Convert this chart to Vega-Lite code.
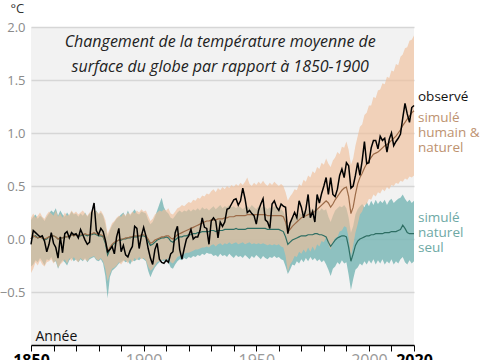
{
"$schema": "https://vega.github.io/schema/vega-lite/v6.json",
"width": 383, "height": 318,
"autosize": {"type": "none"},
"padding": {"left": 31, "top": 27, "right": 71, "bottom": 15},
"background": "white",
"config": {"view": {"fill": "#f2f2f2", "stroke": null}, "font": "Open Sans"},
"data": {"name": "d"},
"datasets": {"d": [
{"year":1850,"o":-0.05,"hm":0.00,"hl":-0.32,"hh":0.20,"nm":0.00,"nl":-0.26,"nh":0.18},
{"year":1851,"o":0.08,"hm":0.03,"hl":-0.28,"hh":0.24,"nm":0.02,"nl":-0.24,"nh":0.21},
{"year":1852,"o":0.06,"hm":0.02,"hl":-0.22,"hh":0.20,"nm":0.03,"nl":-0.20,"nh":0.23},
{"year":1853,"o":0.04,"hm":0.01,"hl":-0.25,"hh":0.22,"nm":0.01,"nl":-0.22,"nh":0.19},
{"year":1854,"o":0.02,"hm":0.02,"hl":-0.20,"hh":0.25,"nm":0.02,"nl":-0.18,"nh":0.22},
{"year":1855,"o":0.03,"hm":0.01,"hl":-0.24,"hh":0.21,"nm":0.01,"nl":-0.21,"nh":0.20},
{"year":1856,"o":-0.02,"hm":0.00,"hl":-0.26,"hh":0.19,"nm":-0.01,"nl":-0.25,"nh":0.17},
{"year":1857,"o":-0.12,"hm":0.01,"hl":-0.22,"hh":0.23,"nm":0.00,"nl":-0.19,"nh":0.21},
{"year":1858,"o":-0.05,"hm":0.02,"hl":-0.21,"hh":0.26,"nm":0.02,"nl":-0.20,"nh":0.24},
{"year":1859,"o":0.06,"hm":0.03,"hl":-0.19,"hh":0.24,"nm":0.03,"nl":-0.17,"nh":0.27},
{"year":1860,"o":-0.04,"hm":0.03,"hl":-0.23,"hh":0.22,"nm":0.03,"nl":-0.22,"nh":0.25},
{"year":1861,"o":-0.08,"hm":0.02,"hl":-0.20,"hh":0.27,"nm":0.02,"nl":-0.21,"nh":0.29},
{"year":1862,"o":-0.18,"hm":0.00,"hl":-0.27,"hh":0.21,"nm":0.00,"nl":-0.28,"nh":0.22},
{"year":1863,"o":0.02,"hm":0.01,"hl":-0.24,"hh":0.24,"nm":0.01,"nl":-0.23,"nh":0.27},
{"year":1864,"o":-0.13,"hm":0.01,"hl":-0.22,"hh":0.20,"nm":0.01,"nl":-0.20,"nh":0.23},
{"year":1865,"o":0.05,"hm":0.02,"hl":-0.19,"hh":0.25,"nm":0.02,"nl":-0.22,"nh":0.21},
{"year":1866,"o":0.07,"hm":0.02,"hl":-0.23,"hh":0.22,"nm":0.02,"nl":-0.25,"nh":0.25},
{"year":1867,"o":0.01,"hm":0.03,"hl":-0.18,"hh":0.23,"nm":0.03,"nl":-0.20,"nh":0.22},
{"year":1868,"o":0.06,"hm":0.04,"hl":-0.21,"hh":0.27,"nm":0.04,"nl":-0.18,"nh":0.26},
{"year":1869,"o":0.04,"hm":0.03,"hl":-0.17,"hh":0.24,"nm":0.03,"nl":-0.21,"nh":0.23},
{"year":1870,"o":0.05,"hm":0.04,"hl":-0.20,"hh":0.26,"nm":0.04,"nl":-0.19,"nh":0.24},
{"year":1871,"o":0.01,"hm":0.03,"hl":-0.22,"hh":0.23,"nm":0.03,"nl":-0.22,"nh":0.21},
{"year":1872,"o":0.09,"hm":0.04,"hl":-0.18,"hh":0.25,"nm":0.03,"nl":-0.19,"nh":0.24},
{"year":1873,"o":0.04,"hm":0.04,"hl":-0.20,"hh":0.27,"nm":0.04,"nl":-0.21,"nh":0.22},
{"year":1874,"o":-0.01,"hm":0.05,"hl":-0.19,"hh":0.24,"nm":0.04,"nl":-0.18,"nh":0.25},
{"year":1875,"o":-0.05,"hm":0.04,"hl":-0.21,"hh":0.22,"nm":0.03,"nl":-0.22,"nh":0.21},
{"year":1876,"o":-0.03,"hm":0.04,"hl":-0.18,"hh":0.25,"nm":0.04,"nl":-0.19,"nh":0.24},
{"year":1877,"o":0.25,"hm":0.05,"hl":-0.17,"hh":0.27,"nm":0.04,"nl":-0.18,"nh":0.26},
{"year":1878,"o":0.34,"hm":0.06,"hl":-0.16,"hh":0.28,"nm":0.05,"nl":-0.17,"nh":0.25},
{"year":1879,"o":0.08,"hm":0.05,"hl":-0.19,"hh":0.26,"nm":0.04,"nl":-0.20,"nh":0.27},
{"year":1880,"o":0.04,"hm":0.04,"hl":-0.20,"hh":0.24,"nm":0.03,"nl":-0.21,"nh":0.23},
{"year":1881,"o":0.10,"hm":0.04,"hl":-0.18,"hh":0.27,"nm":0.03,"nl":-0.19,"nh":0.25},
{"year":1882,"o":0.07,"hm":0.03,"hl":-0.21,"hh":0.23,"nm":0.02,"nl":-0.23,"nh":0.22},
{"year":1883,"o":-0.01,"hm":-0.02,"hl":-0.28,"hh":0.18,"nm":-0.04,"nl":-0.35,"nh":0.14},
{"year":1884,"o":-0.12,"hm":-0.12,"hl":-0.40,"hh":0.05,"nm":-0.15,"nl":-0.56,"nh":0.02},
{"year":1885,"o":-0.10,"hm":-0.08,"hl":-0.33,"hh":0.10,"nm":-0.10,"nl":-0.36,"nh":0.08},
{"year":1886,"o":-0.07,"hm":-0.05,"hl":-0.28,"hh":0.15,"nm":-0.06,"nl":-0.30,"nh":0.13},
{"year":1887,"o":-0.14,"hm":-0.03,"hl":-0.27,"hh":0.17,"nm":-0.04,"nl":-0.28,"nh":0.16},
{"year":1888,"o":0.02,"hm":-0.02,"hl":-0.25,"hh":0.20,"nm":-0.02,"nl":-0.26,"nh":0.19},
{"year":1889,"o":0.10,"hm":-0.01,"hl":-0.22,"hh":0.22,"nm":-0.01,"nl":-0.23,"nh":0.21},
{"year":1890,"o":-0.12,"hm":0.00,"hl":-0.24,"hh":0.21,"nm":-0.01,"nl":-0.22,"nh":0.23},
{"year":1891,"o":-0.06,"hm":0.00,"hl":-0.21,"hh":0.24,"nm":0.00,"nl":-0.20,"nh":0.25},
{"year":1892,"o":-0.15,"hm":0.01,"hl":-0.20,"hh":0.22,"nm":0.00,"nl":-0.22,"nh":0.21},
{"year":1893,"o":-0.17,"hm":0.01,"hl":-0.23,"hh":0.25,"nm":0.01,"nl":-0.21,"nh":0.27},
{"year":1894,"o":-0.11,"hm":0.02,"hl":-0.19,"hh":0.23,"nm":0.01,"nl":-0.24,"nh":0.22},
{"year":1895,"o":-0.07,"hm":0.02,"hl":-0.22,"hh":0.26,"nm":0.02,"nl":-0.20,"nh":0.25},
{"year":1896,"o":0.12,"hm":0.03,"hl":-0.18,"hh":0.24,"nm":0.02,"nl":-0.21,"nh":0.28},
{"year":1897,"o":0.10,"hm":0.03,"hl":-0.20,"hh":0.27,"nm":0.02,"nl":-0.19,"nh":0.24},
{"year":1898,"o":-0.09,"hm":0.03,"hl":-0.17,"hh":0.25,"nm":0.03,"nl":-0.20,"nh":0.23},
{"year":1899,"o":0.03,"hm":0.04,"hl":-0.19,"hh":0.28,"nm":0.03,"nl":-0.18,"nh":0.26},
{"year":1900,"o":0.11,"hm":0.04,"hl":-0.18,"hh":0.26,"nm":0.03,"nl":-0.19,"nh":0.25},
{"year":1901,"o":0.03,"hm":0.03,"hl":-0.20,"hh":0.27,"nm":0.02,"nl":-0.21,"nh":0.24},
{"year":1902,"o":-0.09,"hm":0.00,"hl":-0.26,"hh":0.22,"nm":-0.02,"nl":-0.30,"nh":0.18},
{"year":1903,"o":-0.18,"hm":-0.04,"hl":-0.30,"hh":0.17,"nm":-0.06,"nl":-0.36,"nh":0.14},
{"year":1904,"o":-0.24,"hm":-0.03,"hl":-0.28,"hh":0.19,"nm":-0.05,"nl":-0.31,"nh":0.16},
{"year":1905,"o":-0.10,"hm":-0.01,"hl":-0.25,"hh":0.23,"nm":-0.03,"nl":-0.27,"nh":0.21},
{"year":1906,"o":-0.04,"hm":0.00,"hl":-0.22,"hh":0.25,"nm":-0.01,"nl":-0.24,"nh":0.27},
{"year":1907,"o":-0.19,"hm":0.01,"hl":-0.21,"hh":0.27,"nm":0.00,"nl":-0.22,"nh":0.33},
{"year":1908,"o":-0.22,"hm":0.02,"hl":-0.20,"hh":0.26,"nm":0.01,"nl":-0.20,"nh":0.39},
{"year":1909,"o":-0.23,"hm":0.02,"hl":-0.19,"hh":0.28,"nm":0.01,"nl":-0.21,"nh":0.30},
{"year":1910,"o":-0.20,"hm":0.03,"hl":-0.20,"hh":0.27,"nm":0.02,"nl":-0.19,"nh":0.26},
{"year":1911,"o":-0.22,"hm":0.03,"hl":-0.18,"hh":0.29,"nm":0.01,"nl":-0.22,"nh":0.24},
{"year":1912,"o":-0.14,"hm":0.01,"hl":-0.22,"hh":0.24,"nm":-0.02,"nl":-0.27,"nh":0.20},
{"year":1913,"o":-0.12,"hm":0.00,"hl":-0.23,"hh":0.23,"nm":-0.03,"nl":-0.28,"nh":0.19},
{"year":1914,"o":0.06,"hm":0.02,"hl":-0.20,"hh":0.26,"nm":-0.01,"nl":-0.24,"nh":0.22},
{"year":1915,"o":0.12,"hm":0.04,"hl":-0.17,"hh":0.29,"nm":0.01,"nl":-0.21,"nh":0.25},
{"year":1916,"o":-0.10,"hm":0.05,"hl":-0.16,"hh":0.30,"nm":0.02,"nl":-0.19,"nh":0.27},
{"year":1917,"o":-0.19,"hm":0.06,"hl":-0.15,"hh":0.32,"nm":0.02,"nl":-0.20,"nh":0.25},
{"year":1918,"o":-0.09,"hm":0.07,"hl":-0.14,"hh":0.31,"nm":0.03,"nl":-0.18,"nh":0.27},
{"year":1919,"o":0.00,"hm":0.08,"hl":-0.13,"hh":0.33,"nm":0.03,"nl":-0.19,"nh":0.26},
{"year":1920,"o":0.03,"hm":0.09,"hl":-0.13,"hh":0.35,"nm":0.04,"nl":-0.17,"nh":0.28},
{"year":1921,"o":0.09,"hm":0.10,"hl":-0.12,"hh":0.34,"nm":0.04,"nl":-0.18,"nh":0.26},
{"year":1922,"o":0.00,"hm":0.11,"hl":-0.11,"hh":0.37,"nm":0.05,"nl":-0.16,"nh":0.28},
{"year":1923,"o":0.02,"hm":0.12,"hl":-0.10,"hh":0.36,"nm":0.05,"nl":-0.17,"nh":0.27},
{"year":1924,"o":0.02,"hm":0.13,"hl":-0.10,"hh":0.39,"nm":0.06,"nl":-0.15,"nh":0.29},
{"year":1925,"o":0.08,"hm":0.14,"hl":-0.09,"hh":0.38,"nm":0.06,"nl":-0.16,"nh":0.27},
{"year":1926,"o":0.20,"hm":0.15,"hl":-0.08,"hh":0.41,"nm":0.07,"nl":-0.14,"nh":0.30},
{"year":1927,"o":0.11,"hm":0.16,"hl":-0.08,"hh":0.40,"nm":0.07,"nl":-0.15,"nh":0.28},
{"year":1928,"o":0.10,"hm":0.17,"hl":-0.07,"hh":0.43,"nm":0.07,"nl":-0.13,"nh":0.29},
{"year":1929,"o":-0.05,"hm":0.17,"hl":-0.08,"hh":0.42,"nm":0.07,"nl":-0.14,"nh":0.27},
{"year":1930,"o":0.17,"hm":0.18,"hl":-0.06,"hh":0.45,"nm":0.08,"nl":-0.14,"nh":0.29},
{"year":1931,"o":0.20,"hm":0.18,"hl":-0.05,"hh":0.47,"nm":0.08,"nl":-0.16,"nh":0.31},
{"year":1932,"o":0.17,"hm":0.18,"hl":-0.07,"hh":0.44,"nm":0.07,"nl":-0.15,"nh":0.28},
{"year":1933,"o":0.01,"hm":0.19,"hl":-0.05,"hh":0.48,"nm":0.08,"nl":-0.17,"nh":0.30},
{"year":1934,"o":0.16,"hm":0.19,"hl":-0.04,"hh":0.46,"nm":0.08,"nl":-0.14,"nh":0.32},
{"year":1935,"o":0.12,"hm":0.19,"hl":-0.06,"hh":0.49,"nm":0.08,"nl":-0.16,"nh":0.29},
{"year":1936,"o":0.16,"hm":0.20,"hl":-0.04,"hh":0.47,"nm":0.09,"nl":-0.15,"nh":0.31},
{"year":1937,"o":0.28,"hm":0.20,"hl":-0.05,"hh":0.50,"nm":0.09,"nl":-0.17,"nh":0.30},
{"year":1938,"o":0.29,"hm":0.21,"hl":-0.03,"hh":0.48,"nm":0.09,"nl":-0.14,"nh":0.32},
{"year":1939,"o":0.33,"hm":0.21,"hl":-0.05,"hh":0.51,"nm":0.09,"nl":-0.16,"nh":0.30},
{"year":1940,"o":0.37,"hm":0.21,"hl":-0.04,"hh":0.49,"nm":0.09,"nl":-0.18,"nh":0.31},
{"year":1941,"o":0.38,"hm":0.22,"hl":-0.03,"hh":0.52,"nm":0.10,"nl":-0.15,"nh":0.29},
{"year":1942,"o":0.32,"hm":0.22,"hl":-0.05,"hh":0.50,"nm":0.09,"nl":-0.17,"nh":0.31},
{"year":1943,"o":0.36,"hm":0.22,"hl":-0.04,"hh":0.53,"nm":0.09,"nl":-0.16,"nh":0.30},
{"year":1944,"o":0.48,"hm":0.22,"hl":-0.03,"hh":0.51,"nm":0.09,"nl":-0.18,"nh":0.28},
{"year":1945,"o":0.38,"hm":0.22,"hl":-0.05,"hh":0.54,"nm":0.09,"nl":-0.15,"nh":0.30},
{"year":1946,"o":0.25,"hm":0.23,"hl":-0.04,"hh":0.58,"nm":0.10,"nl":-0.17,"nh":0.31},
{"year":1947,"o":0.27,"hm":0.23,"hl":-0.03,"hh":0.52,"nm":0.10,"nl":-0.19,"nh":0.29},
{"year":1948,"o":0.24,"hm":0.23,"hl":-0.05,"hh":0.50,"nm":0.10,"nl":-0.16,"nh":0.32},
{"year":1949,"o":0.22,"hm":0.23,"hl":-0.04,"hh":0.53,"nm":0.10,"nl":-0.18,"nh":0.30},
{"year":1950,"o":0.14,"hm":0.23,"hl":-0.05,"hh":0.51,"nm":0.10,"nl":-0.15,"nh":0.28},
{"year":1951,"o":0.27,"hm":0.23,"hl":-0.04,"hh":0.54,"nm":0.10,"nl":-0.17,"nh":0.31},
{"year":1952,"o":0.33,"hm":0.23,"hl":-0.05,"hh":0.52,"nm":0.10,"nl":-0.19,"nh":0.29},
{"year":1953,"o":0.38,"hm":0.23,"hl":-0.04,"hh":0.55,"nm":0.10,"nl":-0.16,"nh":0.31},
{"year":1954,"o":0.18,"hm":0.23,"hl":-0.05,"hh":0.52,"nm":0.10,"nl":-0.18,"nh":0.30},
{"year":1955,"o":0.16,"hm":0.22,"hl":-0.06,"hh":0.50,"nm":0.09,"nl":-0.19,"nh":0.28},
{"year":1956,"o":0.10,"hm":0.22,"hl":-0.05,"hh":0.53,"nm":0.09,"nl":-0.17,"nh":0.30},
{"year":1957,"o":0.33,"hm":0.22,"hl":-0.06,"hh":0.51,"nm":0.09,"nl":-0.18,"nh":0.29},
{"year":1958,"o":0.36,"hm":0.22,"hl":-0.05,"hh":0.54,"nm":0.09,"nl":-0.16,"nh":0.31},
{"year":1959,"o":0.30,"hm":0.22,"hl":-0.06,"hh":0.52,"nm":0.09,"nl":-0.18,"nh":0.29},
{"year":1960,"o":0.27,"hm":0.22,"hl":-0.05,"hh":0.50,"nm":0.09,"nl":-0.17,"nh":0.30},
{"year":1961,"o":0.33,"hm":0.22,"hl":-0.07,"hh":0.52,"nm":0.08,"nl":-0.19,"nh":0.28},
{"year":1962,"o":0.31,"hm":0.21,"hl":-0.08,"hh":0.50,"nm":0.07,"nl":-0.20,"nh":0.26},
{"year":1963,"o":0.30,"hm":0.16,"hl":-0.16,"hh":0.44,"nm":0.02,"nl":-0.26,"nh":0.20},
{"year":1964,"o":0.05,"hm":0.07,"hl":-0.31,"hh":0.36,"nm":-0.05,"nl":-0.33,"nh":0.12},
{"year":1965,"o":0.15,"hm":0.09,"hl":-0.24,"hh":0.40,"nm":-0.03,"nl":-0.29,"nh":0.16},
{"year":1966,"o":0.20,"hm":0.12,"hl":-0.21,"hh":0.43,"nm":-0.01,"nl":-0.24,"nh":0.19},
{"year":1967,"o":0.25,"hm":0.14,"hl":-0.16,"hh":0.47,"nm":0.00,"nl":-0.25,"nh":0.22},
{"year":1968,"o":0.20,"hm":0.16,"hl":-0.17,"hh":0.46,"nm":0.01,"nl":-0.21,"nh":0.20},
{"year":1969,"o":0.36,"hm":0.18,"hl":-0.12,"hh":0.52,"nm":0.02,"nl":-0.23,"nh":0.25},
{"year":1970,"o":0.30,"hm":0.20,"hl":-0.14,"hh":0.50,"nm":0.03,"nl":-0.19,"nh":0.23},
{"year":1971,"o":0.20,"hm":0.21,"hl":-0.10,"hh":0.56,"nm":0.03,"nl":-0.22,"nh":0.27},
{"year":1972,"o":0.28,"hm":0.22,"hl":-0.13,"hh":0.54,"nm":0.03,"nl":-0.18,"nh":0.25},
{"year":1973,"o":0.42,"hm":0.23,"hl":-0.08,"hh":0.60,"nm":0.04,"nl":-0.21,"nh":0.28},
{"year":1974,"o":0.20,"hm":0.24,"hl":-0.12,"hh":0.58,"nm":0.04,"nl":-0.17,"nh":0.26},
{"year":1975,"o":0.26,"hm":0.25,"hl":-0.07,"hh":0.64,"nm":0.04,"nl":-0.20,"nh":0.29},
{"year":1976,"o":0.16,"hm":0.26,"hl":-0.11,"hh":0.62,"nm":0.05,"nl":-0.18,"nh":0.27},
{"year":1977,"o":0.42,"hm":0.28,"hl":-0.05,"hh":0.68,"nm":0.05,"nl":-0.21,"nh":0.30},
{"year":1978,"o":0.34,"hm":0.30,"hl":-0.07,"hh":0.66,"nm":0.04,"nl":-0.19,"nh":0.26},
{"year":1979,"o":0.43,"hm":0.32,"hl":-0.02,"hh":0.72,"nm":0.04,"nl":-0.22,"nh":0.29},
{"year":1980,"o":0.50,"hm":0.34,"hl":-0.03,"hh":0.70,"nm":0.03,"nl":-0.20,"nh":0.27},
{"year":1981,"o":0.58,"hm":0.36,"hl":0.02,"hh":0.76,"nm":0.02,"nl":-0.24,"nh":0.28},
{"year":1982,"o":0.42,"hm":0.34,"hl":-0.05,"hh":0.71,"nm":-0.03,"nl":-0.29,"nh":0.21},
{"year":1983,"o":0.58,"hm":0.30,"hl":-0.10,"hh":0.68,"nm":-0.07,"nl":-0.35,"nh":0.16},
{"year":1984,"o":0.42,"hm":0.33,"hl":-0.03,"hh":0.74,"nm":-0.04,"nl":-0.28,"nh":0.22},
{"year":1985,"o":0.40,"hm":0.37,"hl":0.01,"hh":0.77,"nm":-0.01,"nl":-0.26,"nh":0.27},
{"year":1986,"o":0.47,"hm":0.40,"hl":0.02,"hh":0.82,"nm":0.01,"nl":-0.22,"nh":0.29},
{"year":1987,"o":0.60,"hm":0.43,"hl":0.07,"hh":0.80,"nm":0.02,"nl":-0.24,"nh":0.31},
{"year":1988,"o":0.66,"hm":0.46,"hl":0.08,"hh":0.87,"nm":0.03,"nl":-0.20,"nh":0.30},
{"year":1989,"o":0.58,"hm":0.48,"hl":0.12,"hh":0.86,"nm":0.03,"nl":-0.23,"nh":0.32},
{"year":1990,"o":0.72,"hm":0.49,"hl":0.11,"hh":0.92,"nm":0.02,"nl":-0.22,"nh":0.29},
{"year":1991,"o":0.69,"hm":0.40,"hl":0.01,"hh":0.84,"nm":-0.08,"nl":-0.34,"nh":0.20},
{"year":1992,"o":0.48,"hm":0.24,"hl":-0.16,"hh":0.70,"nm":-0.21,"nl":-0.48,"nh":0.06},
{"year":1993,"o":0.50,"hm":0.30,"hl":-0.06,"hh":0.76,"nm":-0.14,"nl":-0.38,"nh":0.12},
{"year":1994,"o":0.60,"hm":0.42,"hl":0.06,"hh":0.88,"nm":-0.06,"nl":-0.29,"nh":0.23},
{"year":1995,"o":0.72,"hm":0.52,"hl":0.14,"hh":0.97,"nm":-0.02,"nl":-0.27,"nh":0.28},
{"year":1996,"o":0.60,"hm":0.58,"hl":0.23,"hh":1.06,"nm":0.00,"nl":-0.23,"nh":0.31},
{"year":1997,"o":0.74,"hm":0.62,"hl":0.26,"hh":1.08,"nm":0.01,"nl":-0.25,"nh":0.33},
{"year":1998,"o":0.92,"hm":0.67,"hl":0.32,"hh":1.17,"nm":0.02,"nl":-0.21,"nh":0.30},
{"year":1999,"o":0.71,"hm":0.71,"hl":0.33,"hh":1.19,"nm":0.03,"nl":-0.24,"nh":0.35},
{"year":2000,"o":0.72,"hm":0.74,"hl":0.38,"hh":1.26,"nm":0.03,"nl":-0.20,"nh":0.31},
{"year":2001,"o":0.86,"hm":0.77,"hl":0.37,"hh":1.26,"nm":0.04,"nl":-0.23,"nh":0.36},
{"year":2002,"o":0.93,"hm":0.80,"hl":0.42,"hh":1.34,"nm":0.04,"nl":-0.19,"nh":0.32},
{"year":2003,"o":0.93,"hm":0.81,"hl":0.40,"hh":1.33,"nm":0.05,"nl":-0.24,"nh":0.37},
{"year":2004,"o":0.85,"hm":0.82,"hl":0.44,"hh":1.40,"nm":0.05,"nl":-0.20,"nh":0.33},
{"year":2005,"o":0.97,"hm":0.84,"hl":0.43,"hh":1.41,"nm":0.05,"nl":-0.23,"nh":0.36},
{"year":2006,"o":0.93,"hm":0.86,"hl":0.47,"hh":1.47,"nm":0.05,"nl":-0.19,"nh":0.34},
{"year":2007,"o":0.95,"hm":0.88,"hl":0.45,"hh":1.46,"nm":0.06,"nl":-0.24,"nh":0.37},
{"year":2008,"o":0.82,"hm":0.89,"hl":0.49,"hh":1.53,"nm":0.06,"nl":-0.21,"nh":0.32},
{"year":2009,"o":0.94,"hm":0.91,"hl":0.47,"hh":1.52,"nm":0.06,"nl":-0.23,"nh":0.36},
{"year":2010,"o":1.00,"hm":0.93,"hl":0.51,"hh":1.59,"nm":0.07,"nl":-0.19,"nh":0.38},
{"year":2011,"o":0.88,"hm":0.95,"hl":0.50,"hh":1.58,"nm":0.07,"nl":-0.24,"nh":0.34},
{"year":2012,"o":0.92,"hm":0.97,"hl":0.53,"hh":1.65,"nm":0.07,"nl":-0.21,"nh":0.36},
{"year":2013,"o":0.95,"hm":1.00,"hl":0.52,"hh":1.64,"nm":0.08,"nl":-0.23,"nh":0.38},
{"year":2014,"o":0.99,"hm":1.03,"hl":0.55,"hh":1.72,"nm":0.09,"nl":-0.19,"nh":0.39},
{"year":2015,"o":1.14,"hm":1.07,"hl":0.54,"hh":1.74,"nm":0.13,"nl":-0.17,"nh":0.42},
{"year":2016,"o":1.28,"hm":1.10,"hl":0.57,"hh":1.80,"nm":0.10,"nl":-0.22,"nh":0.38},
{"year":2017,"o":1.18,"hm":1.13,"hl":0.56,"hh":1.81,"nm":0.06,"nl":-0.24,"nh":0.35},
{"year":2018,"o":1.10,"hm":1.16,"hl":0.59,"hh":1.87,"nm":0.05,"nl":-0.20,"nh":0.37},
{"year":2019,"o":1.24,"hm":1.19,"hl":0.58,"hh":1.88,"nm":0.05,"nl":-0.23,"nh":0.34},
{"year":2020,"o":1.26,"hm":1.21,"hl":0.60,"hh":1.92,"nm":0.05,"nl":-0.21,"nh":0.36}
]},
"encoding": {
  "x": {"field": "year", "type": "quantitative", "title": null, "scale": {"domain": [1850, 2020], "nice": false, "zero": false},
   "axis": {"values": [1850,1860,1870,1880,1890,1900,1910,1920,1930,1940,1950,1960,1970,1980,1990,2000,2010,2020],
    "format": "d", "labelExpr": "(datum.value==1850||datum.value==1900||datum.value==1950||datum.value==2000||datum.value==2020) ? datum.label : ''",
    "labelFlush": false, "labelOverlap": false, "labelBound": false, "labelFontSize": 16, "labelPadding": 1,
    "labelFontWeight": {"condition": {"test": "datum.value==1850||datum.value==2020", "value": "bold"}, "value": "normal"},
    "labelColor": {"condition": {"test": "datum.value==1850||datum.value==2020", "value": "#000000"}, "value": "#999999"},
    "tickColor": "#000000", "tickSize": 6, "tickWidth": 1, "domainColor": "#000000", "domainWidth": 1.5, "grid": false}}
},
"layer": [
{"mark": {"type": "area", "color": "#7db8b7", "opacity": 0.85},
 "encoding": {
  "y": {"field": "nl", "type": "quantitative", "title": "°C", "scale": {"domain": [-1, 2], "nice": false, "zero": false},
   "axis": {"titleAngle": 0, "titleAlign": "left", "titleBaseline": "middle", "titleX": -21, "titleY": -19,
    "titleFontSize": 13, "titleFontWeight": "normal", "titleColor": "#333333",
    "values": [-0.5, 0, 0.5, 1, 1.5, 2], "format": ".1f", "labelFontSize": 13, "labelColor": "#8a8a8a", "labelPadding": 6,
    "ticks": false, "domain": false, "grid": true, "gridColor": "#d6d6d6", "gridWidth": 1.5}},
  "y2": {"field": "nh"}}},
{"mark": {"type": "area", "color": "#f0bf99", "opacity": 0.65},
 "encoding": {
  "y": {"field": "hl", "type": "quantitative", "title": "°C"},
  "y2": {"field": "hh"}}},
{"mark": {"type": "line", "color": "#2e6e63", "strokeWidth": 1.2},
 "encoding": {"y": {"field": "nm", "type": "quantitative", "title": "°C"}}},
{"mark": {"type": "line", "color": "#9c6b48", "strokeWidth": 1.2},
 "encoding": {"y": {"field": "hm", "type": "quantitative", "title": "°C"}}},
{"mark": {"type": "line", "color": "#000000", "strokeWidth": 1.5},
 "encoding": {"y": {"field": "o", "type": "quantitative", "title": "°C"}}},
{"transform": [{"filter": "datum.year == 1934"}],
 "mark": {"type": "text", "text": ["Changement de la température moyenne de", "surface du globe par rapport à 1850-1900"],
  "fontStyle": "italic", "fontSize": 16, "color": "#222222", "align": "center", "baseline": "alphabetic", "lineHeight": 24.5},
 "encoding": {"y": {"datum": 1.81, "type": "quantitative"}}},
{"transform": [{"filter": "datum.year == 1852"}],
 "mark": {"type": "text", "text": "Année", "fontSize": 14, "color": "#111111", "align": "left", "baseline": "alphabetic"},
 "encoding": {"y": {"datum": -0.962, "type": "quantitative"}}},
{"transform": [{"filter": "datum.year == 2020"}],
 "mark": {"type": "text", "text": "observé", "fontSize": 13.5, "color": "#111111", "align": "left", "baseline": "alphabetic", "dx": 4},
 "encoding": {"y": {"datum": 1.30, "type": "quantitative"}}},
{"transform": [{"filter": "datum.year == 2020"}],
 "mark": {"type": "text", "text": ["simulé", "humain &", "naturel"], "fontSize": 13.5, "color": "#bd9270", "align": "left", "baseline": "alphabetic", "lineHeight": 15, "dx": 4},
 "encoding": {"y": {"datum": 1.108, "type": "quantitative"}}},
{"transform": [{"filter": "datum.year == 2020"}],
 "mark": {"type": "text", "text": ["simulé", "naturel", "seul"], "fontSize": 13.5, "color": "#6ea9a5", "align": "left", "baseline": "alphabetic", "lineHeight": 15, "dx": 4},
 "encoding": {"y": {"datum": 0.165, "type": "quantitative"}}}
]
}
